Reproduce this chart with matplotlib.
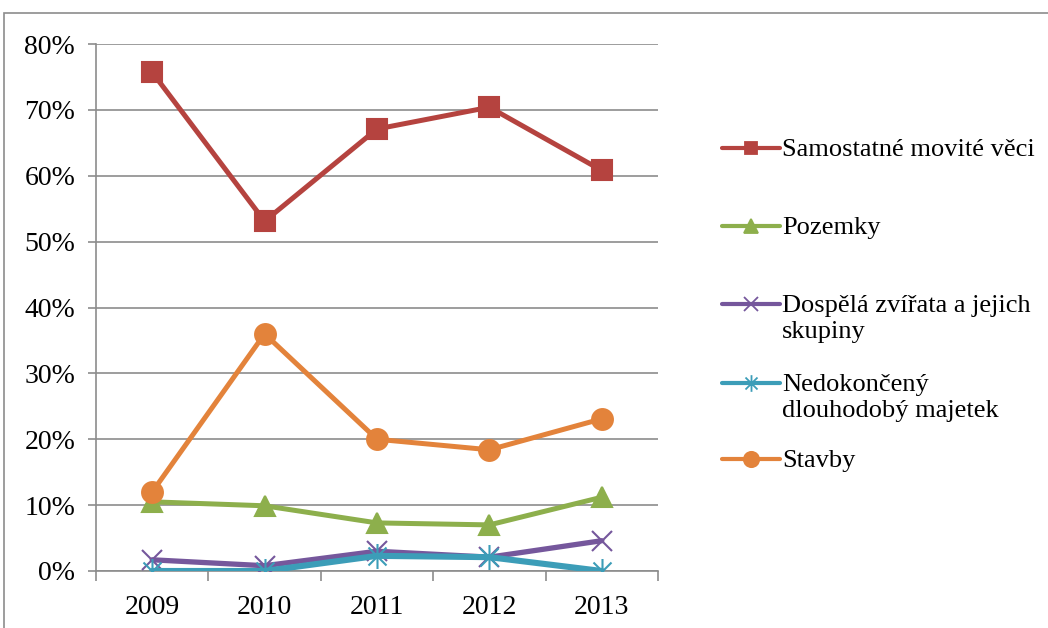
import matplotlib
matplotlib.use("Agg")
import matplotlib.pyplot as plt
from matplotlib.lines import Line2D
from matplotlib.patches import Rectangle
from matplotlib.path import Path
from matplotlib.ticker import FuncFormatter

plt.rcParams['font.family'] = ['Liberation Serif', 'DejaVu Serif']

# data (shares in %)
years = ["2009", "2010", "2011", "2012", "2013"]
movite = [75.7, 53.1, 67.1, 70.4, 60.8]
pozemky = [10.5, 9.9, 7.3, 7.0, 11.2]
zvirata = [1.7, 0.8, 3.0, 2.1, 4.6]
nedokonceny = [0.0, 0.0, 2.3, 2.1, 0.0]
stavby = [12.0, 36.0, 20.0, 18.4, 23.1]

labels = ["Samostatné movité věci", "Pozemky", "Dospělá zvířata a jejich\nskupiny",
          "Nedokončený\ndlouhodobý majetek", "Stavby"]
colors = ["#B5433F", "#8DAF4C", "#75579C", "#3C9DB8", "#E3833B"]
widths = [3.6, 3.6, 3.8, 4.4, 3.6]

# asterisk marker: vertical bar plus an x
star = Path([(0, -1), (0, 1), (-0.72, -0.72), (0.72, 0.72), (-0.72, 0.72), (0.72, -0.72)],
            [Path.MOVETO, Path.LINETO] * 3)

markers = ["s", "^", "x", star, "o"]
sizes = [14, 15, 15, 18, 15]
leg_sizes = [9, 10, 10, 12, 11]

fig = plt.figure(figsize=(10.48, 6.28), dpi=100)
fig.patches.append(Rectangle((4 / 1048, -0.1), 1.1, 1 - 13 / 628 + 0.1, transform=fig.transFigure,
                             fill=False, edgecolor="#8c8c8c", linewidth=1.2))

ax = fig.add_axes([96 / 1048, 57 / 628, 562 / 1048, 527 / 628])
x = list(range(len(years)))
series = [movite, pozemky, zvirata, nedokonceny, stavby]
for vals, col, lw, mk, ms in zip(series, colors, widths, markers, sizes):
    ax.plot(x, vals, color=col, linewidth=lw, marker=mk, markersize=ms,
            markerfacecolor=col, markeredgecolor=col, markeredgewidth=1.5,
            solid_capstyle="round", zorder=3)

ax.set_xlim(-0.5, 4.5)
ax.set_ylim(0, 80)
ax.set_yticks(range(0, 81, 10))
ax.yaxis.set_major_formatter(FuncFormatter(lambda v, p: f"{v:.0f}%"))
ax.set_xticks([i - 0.5 for i in range(6)])
ax.set_xticklabels([])
ax.set_xticks(x, minor=True)
ax.set_xticklabels(years, minor=True)
ax.tick_params(axis="x", which="major", length=7, width=1.2, color="#8c8c8c", direction="out")
ax.tick_params(axis="x", which="minor", length=0, pad=17, labelsize=20)
ax.tick_params(axis="y", length=6, width=1.2, color="#8c8c8c", pad=9, labelsize=20)
ax.grid(axis="y", color="#8c8c8c", linewidth=1.2, zorder=0)
for s in ["top", "right"]:
    ax.spines[s].set_visible(False)
for s in ["left", "bottom"]:
    ax.spines[s].set_color("#8c8c8c")
    ax.spines[s].set_linewidth(1.2)

# legend drawn on the right
leg_y = [148, 226, 304, 383, 459]
for lab, col, mk, ms, yy in zip(labels, colors, markers, leg_sizes, leg_y):
    yf = 1 - yy / 628
    fig.add_artist(Line2D([722 / 1048, 780 / 1048], [yf, yf], transform=fig.transFigure,
                          color=col, linewidth=3.0, solid_capstyle="round"))
    fig.add_artist(Line2D([751 / 1048], [yf], transform=fig.transFigure, color=col,
                          marker=mk, markersize=ms, markeredgewidth=1.3,
                          markerfacecolor=col, markeredgecolor=col, linestyle="none"))
    fig.text(782 / 1048, yf + 9 / 628, lab, fontsize=19, va="top", ha="left",
             linespacing=1.25)

fig.savefig("out.png", dpi=100)
